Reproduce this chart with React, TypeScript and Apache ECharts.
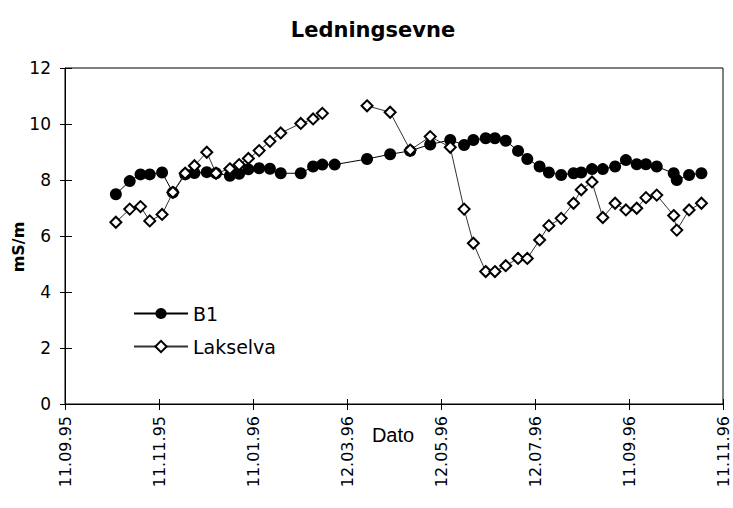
import React, { useEffect, useRef } from 'react';
import * as echarts from 'echarts';

const startDate = '1995-09-11';
const endDay = 427;
const tickStepDays = 61;
const xTickLabels = ['11.09.95', '11.11.95', '11.01.96', '12.03.96', '12.05.96', '12.07.96', '11.09.96', '11.11.96'];
const xAxisTitle = 'Dato';
const yAxisTitle = 'mS/m';

const sampleDates = [
  '1995-10-14', '1995-10-23', '1995-10-30', '1995-11-05', '1995-11-13', '1995-11-20',
  '1995-11-28', '1995-12-04', '1995-12-12', '1995-12-18', '1995-12-27', '1996-01-02',
  '1996-01-08', '1996-01-15', '1996-01-22', '1996-01-29', '1996-02-11', '1996-02-19',
  '1996-02-25', '1996-03-04', '1996-03-25', '1996-04-09', '1996-04-22', '1996-05-05',
  '1996-05-18', '1996-05-27', '1996-06-02', '1996-06-10', '1996-06-16', '1996-06-23',
  '1996-07-01', '1996-07-07', '1996-07-15', '1996-07-21', '1996-07-29', '1996-08-06',
  '1996-08-11', '1996-08-18', '1996-08-25', '1996-09-02', '1996-09-09', '1996-09-16',
  '1996-09-22', '1996-09-29', '1996-10-10', '1996-10-12', '1996-10-20', '1996-10-28',
];

const b1Values = [
  7.49, 7.96, 8.2, 8.2, 8.27, 7.55,
  8.2, 8.25, 8.28, 8.24, 8.15, 8.22,
  8.38, 8.42, 8.4, 8.24, 8.24, 8.48,
  8.55, 8.55, 8.75, 8.92, 9.04, 9.27,
  9.43, 9.25, 9.43, 9.49, 9.49, 9.4,
  9.04, 8.75, 8.48, 8.27, 8.18, 8.24,
  8.27, 8.39, 8.39, 8.48, 8.71, 8.56,
  8.56, 8.48, 8.24, 8.0, 8.18, 8.24,
];

const lakselvaValues: (number | null)[] = [
  6.49, 6.96, 7.05, 6.54, 6.77, 7.56,
  8.24, 8.51, 8.99, 8.24, 8.4, 8.55,
  8.77, 9.05, 9.38, 9.68, 10.02, 10.18,
  10.38, null, 10.65, 10.42, 9.07, 9.55,
  9.17, 6.96, 5.74, 4.73, 4.73, 4.94,
  5.2, 5.2, 5.86, 6.37, 6.63, 7.17,
  7.65, 7.93, 6.66, 7.17, 6.93, 6.99,
  7.37, 7.46, 6.73, 6.21, 6.93, 7.17,
];

const yMin = 0;
const yMax = 12;
const yStep = 2;

function toUTC(s: string) {
  const [y, m, d] = s.split('-').map(Number);
  return Date.UTC(y, m - 1, d);
}
function dayOffset(s: string) {
  return Math.round((toUTC(s) - toUTC(startDate)) / 86400000);
}

export default function App() {
  const ref = useRef<HTMLDivElement>(null);
  useEffect(() => {
    const chart = echarts.init(ref.current!, null, { renderer: 'svg' });
    const xs = sampleDates.map(dayOffset);
    const b1Data = xs.map((x, i) => [x, b1Values[i] == null ? '-' : b1Values[i]]);
    const lakData = xs.map((x, i) => [x, lakselvaValues[i] == null ? '-' : lakselvaValues[i]]);
    const font = 'DejaVu Sans';
    chart.setOption({
      animation: false,
      backgroundColor: '#fff',
      title: {
        text: 'Ledningsevne',
        left: 368,
        top: 14,
        textAlign: 'center',
        textStyle: { fontFamily: font, fontWeight: 'bold', fontSize: 21, color: '#000' },
      },
      legend: {
        data: ['B1', 'Lakselva'],
        orient: 'vertical',
        left: 133,
        top: 304,
        padding: 0,
        itemWidth: 54,
        itemHeight: 14,
        itemGap: 14,
        textStyle: { fontFamily: font, fontSize: 19, color: '#000' },
      },
      grid: {
        left: 65,
        right: 10,
        top: 68,
        bottom: 104,
        containLabel: false,
        outerBoundsMode: 'none',
        show: true,
        borderColor: '#000',
        borderWidth: 1,
      },
      xAxis: [
        {
          type: 'value',
          min: 0,
          max: endDay,
          interval: tickStepDays,
          axisLine: { show: true, lineStyle: { color: '#000', width: 1 } },
          axisTick: { show: true, length: 6, lineStyle: { color: '#000' } },
          splitLine: { show: false },
          axisLabel: {
            rotate: 90,
            margin: 12,
            fontFamily: font,
            fontSize: 16,
            color: '#000',
            hideOverlap: false,
            formatter: (v: number) => xTickLabels[Math.round(v / tickStepDays)] ?? '',
          },
        },
        {
          type: 'value',
          position: 'bottom',
          min: 0,
          max: endDay,
          interval: tickStepDays,
          axisLine: { show: false },
          axisTick: { show: true, inside: true, length: 5, lineStyle: { color: '#000' } },
          axisLabel: { show: false },
          splitLine: { show: false },
        },
      ],
      yAxis: [
        {
          type: 'value',
          position: 'left',
          min: yMin,
          max: yMax,
          interval: yStep,
          axisLine: { show: true, lineStyle: { color: '#000', width: 1 } },
          axisTick: { show: true, length: 5, lineStyle: { color: '#000' } },
          splitLine: { show: false },
          axisLabel: { margin: 14, fontFamily: font, fontSize: 17, color: '#000' },
        },
        {
          type: 'value',
          position: 'left',
          min: yMin,
          max: yMax,
          interval: yStep,
          axisLine: { show: false },
          axisTick: { show: true, inside: true, length: 7, lineStyle: { color: '#000' } },
          axisLabel: { show: false },
          splitLine: { show: false },
        },
      ],
      graphic: [
        {
          type: 'text',
          x: 18,
          y: 247,
          rotation: Math.PI / 2,
          style: {
            text: yAxisTitle,
            fontFamily: font,
            fontWeight: 'bold',
            fontSize: 16,
            fill: '#000',
            align: 'center',
            verticalAlign: 'middle',
          },
        },
        {
          type: 'text',
          x: 393,
          y: 435,
          style: {
            text: xAxisTitle,
            fontFamily: 'Liberation Sans',
            fontSize: 20,
            fill: '#000',
            align: 'center',
            verticalAlign: 'middle',
          },
        },
      ],
      series: [
        {
          name: 'B1',
          type: 'line',
          xAxisIndex: 0,
          yAxisIndex: 0,
          data: b1Data,
          symbol: 'circle',
          symbolSize: 12,
          connectNulls: false,
          lineStyle: { color: '#000', width: 1 },
          itemStyle: { color: '#000' },
          z: 2,
        },
        {
          name: 'Lakselva',
          type: 'line',
          xAxisIndex: 0,
          yAxisIndex: 0,
          data: lakData,
          symbol: 'diamond',
          symbolSize: 11,
          connectNulls: false,
          lineStyle: { color: '#333', width: 1 },
          itemStyle: { color: '#fff', borderColor: '#000', borderWidth: 2 },
          z: 3,
        },
      ],
    });
    return () => chart.dispose();
  }, []);
  return (
    <div
      ref={ref}
      style={{ position: 'fixed', left: 0, top: 0, width: 733, height: 508, background: '#fff' }}
    />
  );
}
